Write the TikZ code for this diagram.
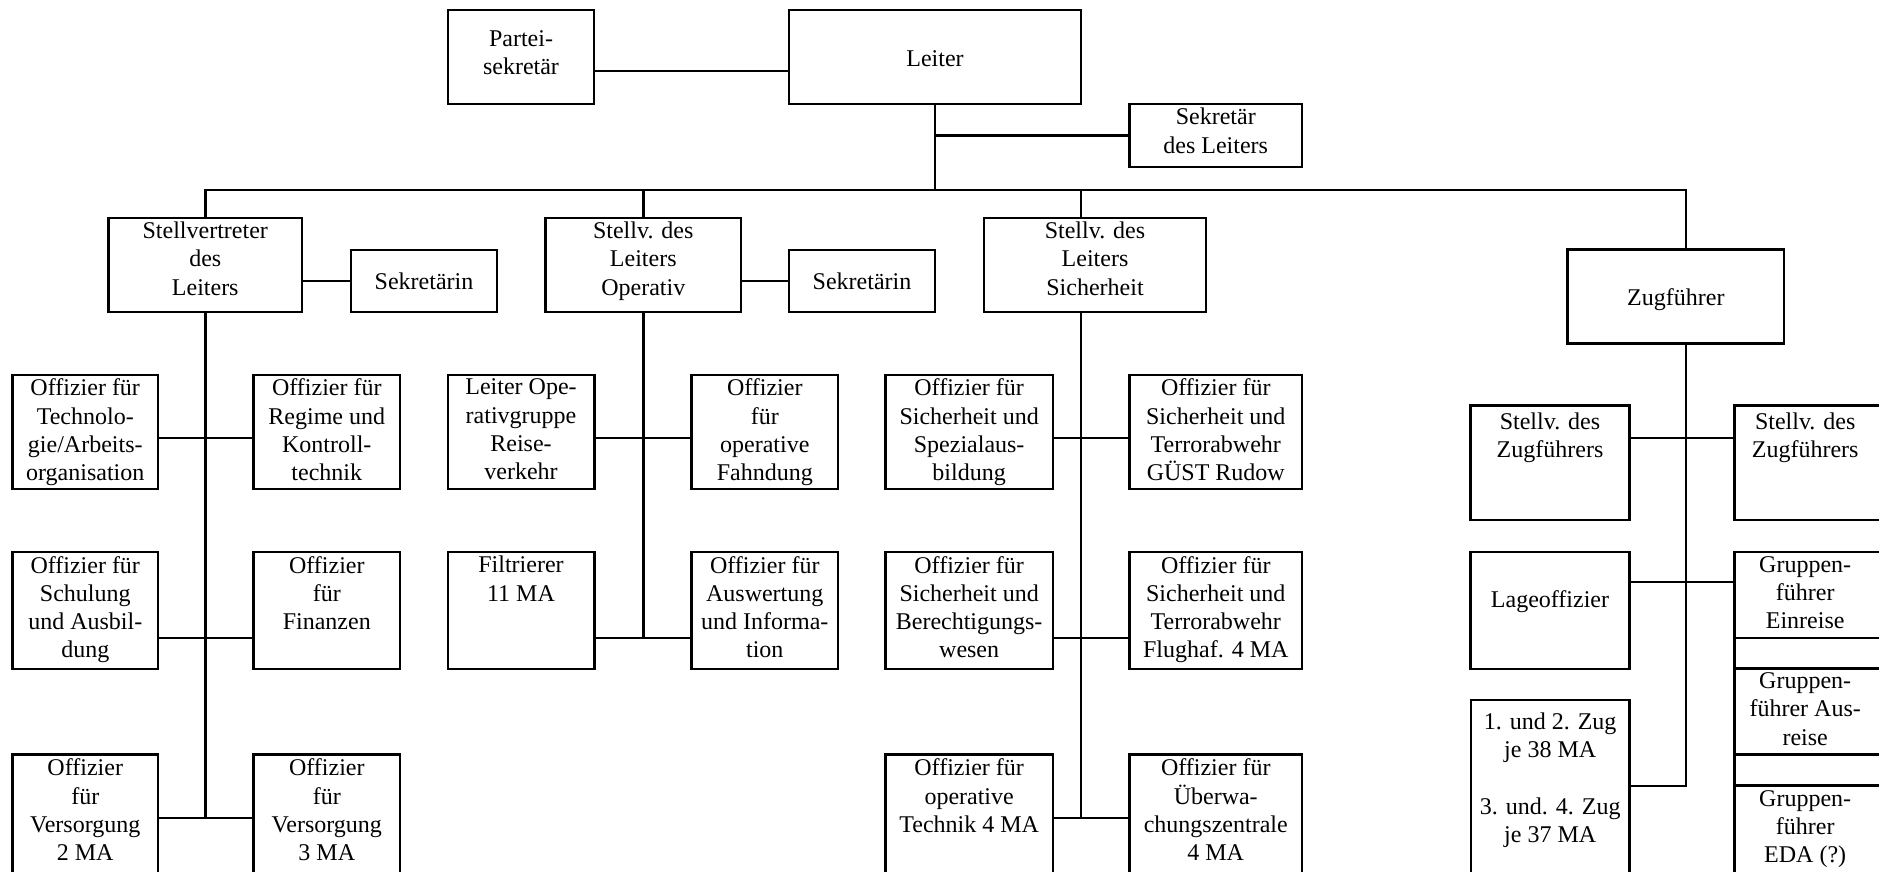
\documentclass[tikz,border=0pt]{standalone}
\usepackage{fontspec}
\setmainfont{Liberation Serif}
\usetikzlibrary{fit,calc}
\begin{document}
\begin{tikzpicture}[x=1pt,y=-1pt,
  box/.style={draw, line width=2.6pt, rectangle, inner sep=0pt, outer sep=0pt},
  txt/.style={anchor=north, align=center, inner sep=0pt, outer sep=0pt,
              font=\fontsize{24}{28.3}\selectfont, execute at begin node=\strut},
  wire/.style={line width=2.6pt}]
\useasboundingbox (0,0) rectangle (1879,871);
\clip (0,0) rectangle (1879,871);

% levels of the connector lines
\coordinate (pl)  at (0,71);
\coordinate (bus) at (0,190);
\coordinate (r1)  at (0,438);
\coordinate (r2)  at (0,638);
\coordinate (r3)  at (0,818);
\coordinate (zc2) at (0,582);
\coordinate (zc3) at (0,786);
\coordinate (bot) at (0,900);
% trunks that do not run through the middle of their box
\coordinate (tSi) at (1081,0);
\coordinate (tZ)  at (1686,0);

% ---- top ----
\node[box, fit={(448,10)(594,104)}]       (partei) {};
\node[box, fit={(789,10)(1081,104)}]      (leiter) {};
\node[box, fit={(1129.5,104)(1302,167)}]  (sekl) {};
\node[txt] (partei-t) at ($(partei.north)+(0,20.2)$) {Partei-\\sekretär};
\node[txt] (leiter-t) at ($(leiter.north)+(0,36.2)$) {Leiter};
\node[txt] (sekl-t)   at ($(sekl.north)+(0,4.2)$)    {Sekretär\\des Leiters};

% ---- deputies ----
\node[box, fit={(108.5,218)(302,312)}]    (stv) {};
\node[box, fit={(351,250)(497,312)}]      (sek1) {};
\node[box, fit={(545.5,218)(741,312)}]    (op) {};
\node[box, fit={(789,250)(935,312)}]      (sek2) {};
\node[box, fit={(984,218)(1206,312)}]     (sich) {};
\node[box, fit={(1567.7,249.3)(1784,343.5)}] (zug) {};
\node[txt] (stv-t)  at ($(stv.north)+(0,4)$)     {Stellvertreter\\des\\Leiters};
\node[txt] (sek1-t) at ($(sek1.north)+(0,19.2)$) {Sekretärin};
\node[txt] (op-t)   at ($(op.north)+(0,4)$)      {Stellv. des\\Leiters\\Operativ};
\node[txt] (sek2-t) at ($(sek2.north)+(0,19.2)$) {Sekretärin};
\node[txt] (sich-t) at ($(sich.north)+(0,4)$)    {Stellv. des\\Leiters\\Sicherheit};
\node[txt] (zug-t)  at ($(zug.north)+(0,36.5)$)  {Zugführer};

% ---- first row ----
\node[box, fit={(12.5,374.8)(158,489)}]     (tech) {};
\node[box, fit={(253.6,374.8)(400,489)}]    (reg) {};
\node[box, fit={(447.8,374.8)(594.2,489)}]  (lop) {};
\node[box, fit={(691.5,374.8)(838,489)}]    (fahn) {};
\node[box, fit={(885.3,374.8)(1053,489)}]   (spez) {};
\node[box, fit={(1129.5,374.8)(1302,489)}]  (guest) {};
\node[box, fit={(1470.7,405.5)(1629.3,520)}] (szl) {};
\node[box, fit={(1734.7,405.5)(1910,520)}]   (szr) {};
\node[txt] (tech-t)  at ($(tech.north)+(0,4.2)$)  {Offizier für\\Technolo-\\gie/Arbeits-\\organisation};
\node[txt] (reg-t)   at ($(reg.north)+(0,4.2)$)   {Offizier für\\Regime und\\Kontroll-\\technik};
\node[txt] (lop-t)   at ($(lop.north)+(0,4.2)$)   {Leiter Ope-\\rativgruppe\\Reise-\\verkehr};
\node[txt] (fahn-t)  at ($(fahn.north)+(0,4.2)$)  {Offizier\\für\\operative\\Fahndung};
\node[txt] (spez-t)  at ($(spez.north)+(0,4.2)$)  {Offizier für\\Sicherheit und\\Spezialaus-\\bildung};
\node[txt] (guest-t) at ($(guest.north)+(0,4.2)$) {Offizier für\\Sicherheit und\\Terrorabwehr\\GÜST Rudow};
\node[txt] (szl-t)   at ($(szl.north)+(0,7.2)$)   {Stellv. des\\Zugführers};
\node[txt] (szr-t)   at ($(szr.north west)+(70.5,7.2)$) {Stellv. des\\Zugführers};

% ---- second row ----
\node[box, fit={(12.5,551.9)(158,669)}]     (schul) {};
\node[box, fit={(253.6,551.9)(400,669)}]    (fin) {};
\node[box, fit={(447.8,551.9)(594.2,669)}]  (filt) {};
\node[box, fit={(691.5,551.9)(838,669)}]    (ausw) {};
\node[box, fit={(885.3,551.9)(1053,669)}]   (ber) {};
\node[box, fit={(1129.5,551.9)(1302,669)}]  (flug) {};
\node[box, fit={(1470.7,551.9)(1629.3,669)}] (lage) {};
\node[box, fit={(1734.7,551.9)(1910,638)}]   (gfe) {};
\node[box, fit={(1734.7,668.5)(1910,754.5)}] (gfa) {};
\node[box, fit={(1734.7,785.6)(1910,900)}]   (gfd) {};
\node[box, fit={(1471,700)(1629.3,900)}]     (zug12) {};
\node[txt] (schul-t) at ($(schul.north)+(0,4.2)$) {Offizier für\\Schulung\\und Ausbil-\\dung};
\node[txt] (fin-t)   at ($(fin.north)+(0,4.2)$)   {Offizier\\für\\Finanzen};
\node[txt] (filt-t)  at ($(filt.north)+(0,4.2)$)  {Filtrierer\\11 MA};
\node[txt] (ausw-t)  at ($(ausw.north)+(0,4.2)$)  {Offizier für\\Auswertung\\und Informa-\\tion};
\node[txt] (ber-t)   at ($(ber.north)+(0,4.2)$)   {Offizier für\\Sicherheit und\\Berechtigungs-\\wesen};
\node[txt] (flug-t)  at ($(flug.north)+(0,4.2)$)  {Offizier für\\Sicherheit und\\Terrorabwehr\\Flughaf. 4 MA};
\node[txt] (lage-t)  at ($(lage.north)+(0,36)$)   {Lageoffizier};
\node[txt] (gfe-t)   at ($(gfe.north west)+(70.5,4.2)$) {Gruppen-\\führer\\Einreise};
\node[txt] (gfa-t)   at ($(gfa.north west)+(70.5,4.2)$) {Gruppen-\\führer Aus-\\reise};
\node[txt] (gfd-t)   at ($(gfd.north west)+(70.5,4.6)$) {Gruppen-\\führer\\EDA (?)};
\node[txt] (zug12-t) at ($(zug12.north)+(0,13)$)  {1. und 2. Zug\\je 38 MA\\\mbox{}\\3. und. 4. Zug\\je 37 MA};

% ---- third row ----
\node[box, fit={(12.5,754.6)(158,900)}]     (vers2) {};
\node[box, fit={(253.6,754.6)(400,900)}]    (vers3) {};
\node[box, fit={(885.3,754.6)(1053,900)}]   (tech4) {};
\node[box, fit={(1129.5,754.6)(1302,900)}]  (ueber) {};
\node[txt] (vers2-t) at ($(vers2.north)+(0,4.2)$) {Offizier\\für\\Versorgung\\2 MA};
\node[txt] (vers3-t) at ($(vers3.north)+(0,4.2)$) {Offizier\\für\\Versorgung\\3 MA};
\node[txt] (tech4-t) at ($(tech4.north)+(0,4.2)$) {Offizier für\\operative\\Technik 4 MA};
\node[txt] (ueber-t) at ($(ueber.north)+(0,4.2)$) {Offizier für\\Überwa-\\chungszentrale\\4 MA};

% ---- connectors ----
\draw[wire] (partei.east |- pl) -- (leiter.west |- pl);
\draw[wire] (leiter.south) -- (leiter.south |- bus);
\draw[wire] (leiter.south |- sekl.west) -- (sekl.west);
\draw[wire] (stv.north) -- (stv.north |- bus) -- (tZ |- bus) -- (tZ |- zug.north);
\draw[wire] (op.north) -- (op.north |- bus);
\draw[wire] (tSi |- sich.north) -- (tSi |- bus);

% first deputy
\draw[wire] (stv.east |- sek1.west) -- (sek1.west);
\draw[wire] (stv.south) -- (stv.south |- r3);
\draw[wire] (tech.east |- r1) -- (reg.west |- r1);
\draw[wire] (schul.east |- r2) -- (fin.west |- r2);
\draw[wire] (vers2.east |- r3) -- (vers3.west |- r3);

% operative deputy
\draw[wire] (op.east |- sek2.west) -- (sek2.west);
\draw[wire] (op.south) -- (op.south |- r2);
\draw[wire] (lop.east |- r1) -- (fahn.west |- r1);
\draw[wire] (filt.east |- r2) -- (ausw.west |- r2);

% security deputy
\draw[wire] (tSi |- sich.south) -- (tSi |- r3);
\draw[wire] (spez.east |- r1) -- (guest.west |- r1);
\draw[wire] (ber.east |- r2) -- (flug.west |- r2);
\draw[wire] (tech4.east |- r3) -- (ueber.west |- r3);

% platoon leader
\draw[wire] (tZ |- zug.south) -- (tZ |- zc3) -- (zug12.east |- zc3);
\draw[wire] (szl.east |- r1) -- (szr.west |- r1);
\draw[wire] (lage.east |- zc2) -- (gfe.west |- zc2);
\draw[wire] (gfe.north west) -- (gfe.north west |- bot);
\end{tikzpicture}
\end{document}
